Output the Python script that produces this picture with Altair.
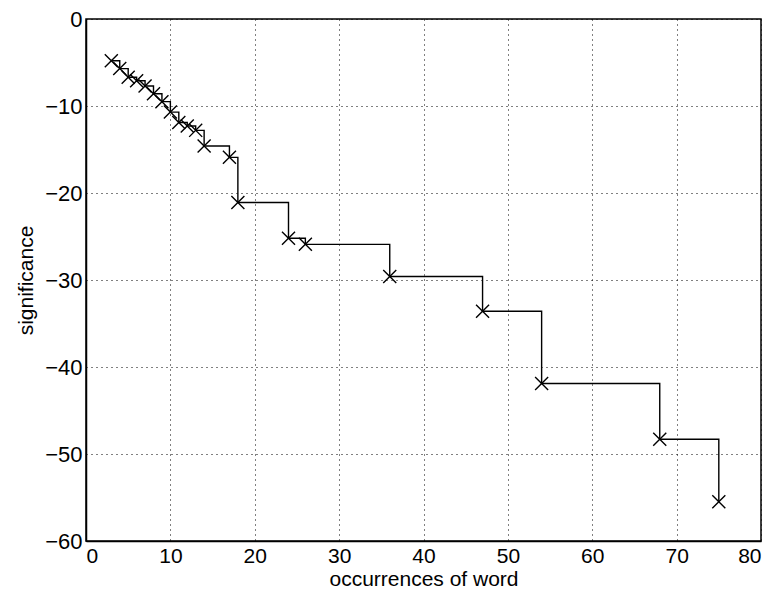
import altair as alt
import pandas as pd

occurrences = [3, 4, 5, 6, 7, 8, 9, 10, 11, 12, 13, 14, 17, 18, 24, 26, 36, 47, 54, 68, 75]
significance = [-4.8, -5.7, -6.7, -7.1, -7.7, -8.6, -9.5, -10.7, -11.9, -12.3, -12.8,
                -14.6, -15.9, -21.1, -25.2, -25.9, -29.6, -33.6, -41.9, -48.3, -55.5]
x_ticks = [0, 10, 20, 30, 40, 50, 60, 70, 80]
y_ticks = [0, -10, -20, -30, -40, -50, -60]

df = pd.DataFrame({"occurrences": occurrences, "significance": significance})

FONT = "Liberation Sans"

x_enc = alt.X("occurrences:Q",
              scale=alt.Scale(domain=[0, 80], nice=False, zero=False),
              axis=alt.Axis(values=x_ticks, title="occurrences of word",
                            labelPadding=4, labelFontSize=21,
                            titlePadding=2, titleFontSize=21))
y_enc = alt.Y("significance:Q",
              scale=alt.Scale(domain=[-60, 0], nice=False, zero=False),
              axis=alt.Axis(values=y_ticks, title="significance",
                            labelPadding=4, titlePadding=8))

base = alt.Chart(df)
line = base.mark_line(interpolate="step-after", color="black", strokeWidth=1.4).encode(
    x=x_enc, y=y_enc)
points = base.mark_point(shape="M-1,-1L1,1M-1,1L1,-1", size=170, color="black",
                         strokeWidth=1.4, filled=False, opacity=1).encode(x=x_enc, y=y_enc)

chart = (line + points).properties(
    width=675, height=522,
    padding={"left": 78, "top": 11, "right": 7, "bottom": 50},
    autosize="none",
    background="white",
).configure_view(
    stroke="black", strokeWidth=1.5
).configure_axis(
    labelFont=FONT, titleFont=FONT, labelFontSize=22, titleFontSize=21,
    labelColor="black", titleColor="black", titleFontWeight="normal",
    domainColor="black", domainWidth=1.5,
    ticks=False,
    grid=True, gridColor="black", gridOpacity=1, gridDash=[1, 4], gridWidth=1,
)

chart.save("out.html", embed_options={"renderer": "svg", "actions": False})
